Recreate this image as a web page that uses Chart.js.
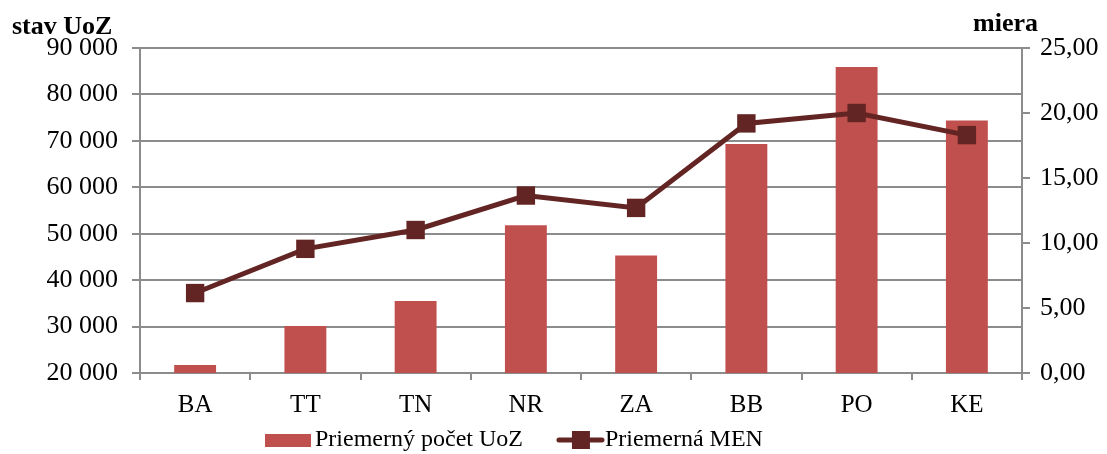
<!DOCTYPE html>
<html>
<head>
<meta charset="utf-8">
<script src="https://cdn.jsdelivr.net/npm/chart.js@4/dist/chart.umd.min.js"></script>
<style>
  html, body { margin: 0; padding: 0; background: #fff; }
  #wrap { width: 1107px; height: 454px; }
</style>
</head>
<body>
<div id="wrap"><canvas id="myChart"></canvas></div>
<script>
const regions = ['BA', 'TT', 'TN', 'NR', 'ZA', 'BB', 'PO', 'KE'];
const uozCounts = [21700, 30100, 35500, 51800, 45300, 69300, 85900, 74400];
const menRates = [6.15, 9.55, 11.0, 13.65, 12.7, 19.2, 20.0, 18.3];
const leftTicks = [20000, 30000, 40000, 50000, 60000, 70000, 80000, 90000];
const rightTicks = [0, 5, 10, 15, 20, 25];

const barColor = '#C0504D';
const lineColor = '#632523';
const gridColor = '#8c8c8c';
const font = 'Liberation Serif';

// legend icons
function barIcon() {
  const c = document.createElement('canvas');
  c.width = 46; c.height = 13;
  const g = c.getContext('2d');
  g.fillStyle = barColor;
  g.fillRect(0, 0, 46, 13);
  return c;
}
function lineIcon() {
  const c = document.createElement('canvas');
  c.width = 54; c.height = 20;
  const g = c.getContext('2d');
  g.strokeStyle = lineColor;
  g.lineWidth = 5;
  g.lineCap = 'round';
  g.beginPath(); g.moveTo(8, 10); g.lineTo(51, 10); g.stroke();
  g.fillStyle = lineColor;
  g.fillRect(21, 1, 18, 18);
  return c;
}

const fmtThousands = v => String(v).replace(/\B(?=(\d{3})+(?!\d))/g, ' ');
const fmtDecimal = v => v.toFixed(2).replace('.', ',');

const axisTitles = {
  id: 'axisTitles',
  afterDraw(chart) {
    const ctx = chart.ctx;
    ctx.save();
    ctx.fillStyle = '#000';
    ctx.font = 'bold 26px "' + font + '"';
    ctx.textBaseline = 'alphabetic';
    ctx.textAlign = 'left';
    ctx.fillText('stav UoZ', 12, 34);
    ctx.fillText('miera', 973, 31);
    ctx.restore();
  }
};

// legend strip: fixed height in layout, then placed like the original
const legendFit = {
  id: 'legendFit',
  beforeLayout(chart) {
    const lg = chart.legend;
    if (lg && !lg._fixed) {
      const orig = lg.fit.bind(lg);
      lg.fit = function () { orig(); this.height = 36; };
      lg._fixed = true;
    }
  },
  afterLayout(chart) {
    const lg = chart.legend;
    lg.left = 233;
    lg.right = 1107;
    lg.top = 388;
    lg.bottom = 454;
  }
};

const data = {
  labels: regions,
  datasets: [
    {
      type: 'line',
      label: 'Priemerná MEN',
      data: menRates,
      yAxisID: 'y1',
      borderColor: lineColor,
      backgroundColor: lineColor,
      borderWidth: 5,
      pointStyle: 'rect',
      pointRadius: 13,
      pointHoverRadius: 13,
      pointBackgroundColor: lineColor,
      pointBorderColor: lineColor,
      pointBorderWidth: 0,
      tension: 0,
      order: 0
    },
    {
      type: 'bar',
      label: 'Priemerný počet UoZ',
      data: uozCounts,
      yAxisID: 'y',
      backgroundColor: barColor,
      borderWidth: 0,
      categoryPercentage: 1,
      barPercentage: 0.38,
      order: 1
    }
  ]
};

const config = {
  type: 'bar',
  data: data,
  options: {
    responsive: true,
    maintainAspectRatio: false,
    animation: false,
    layout: { padding: { top: 48, left: 0, right: 0, bottom: 0 } },
    plugins: {
      tooltip: { enabled: false },
      legend: {
        position: 'bottom',
        align: 'start',
        labels: {
          usePointStyle: true,
          pointStyleWidth: 30,
          padding: 40,
          color: '#000',
          font: { family: font, size: 24 },
          generateLabels(chart) {
            return [
              { text: 'Priemerný počet UoZ', pointStyle: barIcon(), datasetIndex: 1, fontColor: '#000', lineWidth: 0, strokeStyle: 'transparent', fillStyle: barColor },
              { text: 'Priemerná MEN', pointStyle: lineIcon(), datasetIndex: 0, fontColor: '#000', lineWidth: 0, strokeStyle: 'transparent', fillStyle: lineColor }
            ];
          }
        }
      }
    },
    scales: {
      x: {
        afterFit: s => { s.height = 45; },
        grid: { offset: true, drawOnChartArea: false, color: gridColor, lineWidth: 2, tickLength: 7 },
        border: { color: gridColor, width: 2 },
        ticks: { color: '#000', font: { family: font, size: 25 }, padding: 10 }
      },
      y: {
        position: 'left',
        min: leftTicks[0],
        max: leftTicks[leftTicks.length - 1],
        afterBuildTicks: s => { s.ticks = leftTicks.map(v => ({ value: v })); },
        afterFit: s => { s.width = 140; },
        grid: { color: gridColor, lineWidth: 2, tickLength: 8 },
        border: { color: gridColor, width: 2 },
        ticks: { color: '#000', font: { family: font, size: 26 }, padding: 14, callback: v => fmtThousands(v) }
      },
      y1: {
        position: 'right',
        min: 0,
        max: 25,
        afterBuildTicks: s => { s.ticks = rightTicks.map(v => ({ value: v })); },
        afterFit: s => { s.width = 85; },
        grid: { drawOnChartArea: false, color: gridColor, lineWidth: 2, tickLength: 8 },
        border: { color: gridColor, width: 2 },
        ticks: { color: '#000', font: { family: font, size: 26 }, padding: 10, callback: v => fmtDecimal(v) }
      }
    }
  },
  plugins: [axisTitles, legendFit]
};

const myChart = new Chart(document.getElementById('myChart'), config);
</script>
</body>
</html>
